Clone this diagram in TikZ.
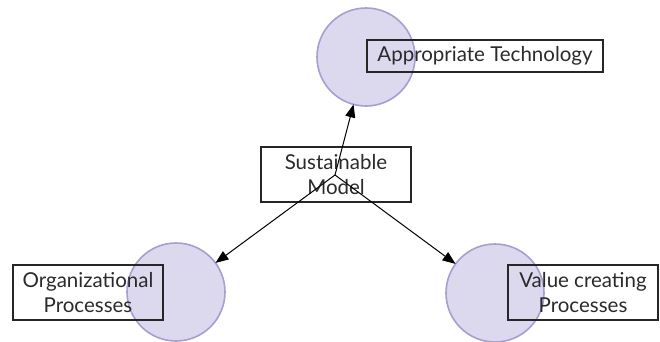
\documentclass[tikz,border=0pt]{standalone}
\usepackage{fontspec}
\setmainfont{Lato}
\usetikzlibrary{arrows.meta}
\definecolor{circfill}{HTML}{DCD8EE}
\definecolor{circline}{HTML}{A99DD2}
\definecolor{txt}{HTML}{2A2A2A}
\begin{document}
\begin{tikzpicture}[x=1pt,y=-1pt,
  blob/.style={circle,draw=circline,fill=circfill,line width=1.6pt,minimum size=98pt,inner sep=0pt,outer sep=0pt},
  lbl/.style={draw=black!85,line width=1.8pt,inner sep=0pt,text=txt,align=center,
    font=\fontsize{20.5}{24.5}\selectfont},
  link/.style={line width=1pt,-{Triangle[length=13pt,width=10pt]}}]
\useasboundingbox (0,0) rectangle (660,342);
\node[blob] (ct) at (366,57) {};
\node[blob] (cl) at (176,292) {};
\node[blob] (cr) at (495,293) {};
\node[lbl,minimum width=236pt,minimum height=32pt] (bt) at (485,56) {Appropriate Technology};
\node[lbl,minimum width=150pt,minimum height=55pt] (bm) at (336,174.5) {Sustainable\\Model};
\node[lbl,minimum width=150pt,minimum height=55pt] (bl) at (88,292.5) {Organizational\\Processes};
\node[lbl,minimum width=150pt,minimum height=55pt] (br) at (583,292.5) {Value creating\\Processes};
\coordinate (c) at (335,175);
\draw[link] (c) -- (ct);
\draw[link] (c) -- (cl);
\draw[link] (c) -- (cr);
\end{tikzpicture}
\end{document}
